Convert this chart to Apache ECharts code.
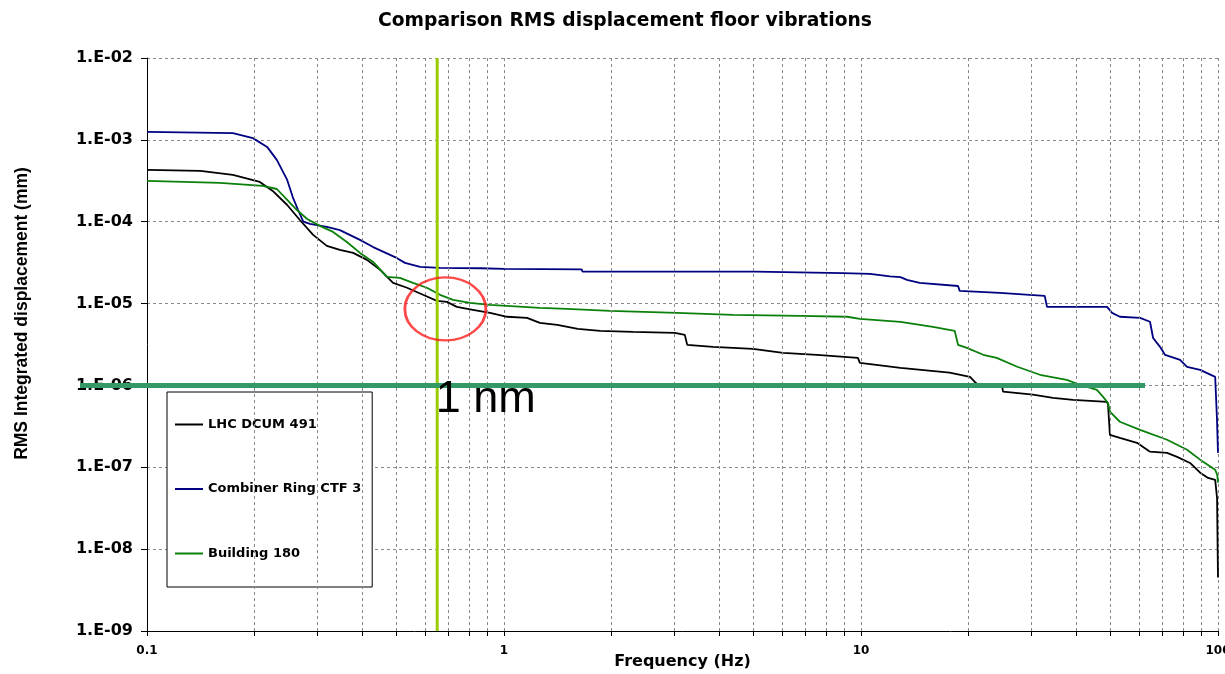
<!DOCTYPE html>
<html>
<head>
<meta charset="utf-8">
<script src="https://cdn.jsdelivr.net/npm/echarts@6/dist/echarts.min.js"></script>
<style>
html,body{margin:0;padding:0;background:#fff;}
#chart{width:1225px;height:674px;}
</style>
</head>
<body>
<div id="chart"></div>
<script>
// ---- Data ----
const lhcFreq = [0.1, 0.141, 0.174, 0.207, 0.225, 0.247, 0.268, 0.292, 0.319, 0.347, 0.378, 0.413, 0.45, 0.489, 0.535, 0.593, 0.649, 0.692, 0.738, 0.818, 0.914, 1.02, 1.16, 1.26, 1.41, 1.61, 1.86, 2.30, 3.01, 3.21, 3.26, 3.85, 4.98, 6.05, 7.53, 9.8, 9.93, 12.9, 17.7, 20.2, 20.8, 21.1, 24.8, 25.0, 30.3, 34.5, 39.3, 48.9, 49.2, 49.8, 53.1, 59.3, 64.5, 72.0, 76.8, 83.5, 89.1, 93.8, 98.2, 99.4, 99.8, 100];
const lhcDisp = [4.29e-4, 4.17e-4, 3.73e-4, 3.06e-4, 2.38e-4, 1.6e-4, 1.05e-4, 6.9e-5, 5.07e-5, 4.53e-5, 4.16e-5, 3.42e-5, 2.58e-5, 1.79e-5, 1.56e-5, 1.28e-5, 1.08e-5, 1.05e-5, 9.1e-6, 8.4e-6, 7.7e-6, 6.9e-6, 6.7e-6, 5.8e-6, 5.5e-6, 4.9e-6, 4.64e-6, 4.5e-6, 4.39e-6, 4.15e-6, 3.13e-6, 2.96e-6, 2.8e-6, 2.5e-6, 2.36e-6, 2.17e-6, 1.89e-6, 1.64e-6, 1.43e-6, 1.27e-6, 1.11e-6, 1.05e-6, 1.02e-6, 8.4e-7, 7.7e-7, 7.06e-7, 6.67e-7, 6.3e-7, 5.8e-7, 2.49e-7, 2.29e-7, 1.99e-7, 1.55e-7, 1.5e-7, 1.34e-7, 1.13e-7, 8.6e-8, 7.4e-8, 7.0e-8, 4.2e-8, 9.0e-9, 4.5e-9];

const ctfFreq = [0.1, 0.174, 0.198, 0.217, 0.231, 0.247, 0.256, 0.265, 0.274, 0.286, 0.319, 0.347, 0.395, 0.43, 0.495, 0.528, 0.582, 0.662, 0.857, 1.0, 1.65, 1.66, 5.05, 5.1, 8.9, 10.6, 12.05, 12.9, 13.45, 14.6, 18.7, 18.9, 24.5, 32.7, 33.2, 48.9, 50.5, 53.1, 60.5, 64.5, 65.8, 68.8, 71.1, 78.3, 81.9, 89.1, 98.2, 99.3, 100];
const ctfDisp = [1.25e-3, 1.21e-3, 1.05e-3, 8.2e-4, 5.7e-4, 3.24e-4, 2.0e-4, 1.39e-4, 1.0e-4, 9.4e-5, 8.65e-5, 7.9e-5, 6.0e-5, 4.9e-5, 3.7e-5, 3.14e-5, 2.8e-5, 2.73e-5, 2.7e-5, 2.65e-5, 2.62e-5, 2.45e-5, 2.45e-5, 2.4e-5, 2.35e-5, 2.3e-5, 2.15e-5, 2.1e-5, 1.95e-5, 1.79e-5, 1.64e-5, 1.43e-5, 1.35e-5, 1.24e-5, 9.1e-6, 9.1e-6, 7.7e-6, 6.9e-6, 6.7e-6, 6.0e-6, 3.8e-6, 2.96e-6, 2.36e-6, 2.05e-6, 1.69e-6, 1.55e-6, 1.27e-6, 4.1e-7, 1.5e-7];

const b180Freq = [0.1, 0.16, 0.211, 0.231, 0.247, 0.263, 0.281, 0.305, 0.332, 0.363, 0.395, 0.43, 0.47, 0.511, 0.556, 0.608, 0.662, 0.72, 0.803, 0.914, 1.26, 1.5, 1.98, 3.05, 4.38, 6.74, 9.14, 9.93, 12.9, 15.9, 18.3, 18.7, 19.8, 22.0, 24.0, 27.4, 31.7, 37.7, 41.0, 45.8, 47.6, 49.2, 49.8, 53.1, 60.5, 72.0, 81.9, 89.1, 98.2, 99.5, 100];
const b180Disp = [3.15e-4, 2.98e-4, 2.74e-4, 2.51e-4, 1.85e-4, 1.39e-4, 1.08e-4, 8.9e-5, 7.5e-5, 5.66e-5, 4.16e-5, 3.23e-5, 2.12e-5, 2.06e-5, 1.79e-5, 1.56e-5, 1.28e-5, 1.11e-5, 1.02e-5, 9.64e-6, 8.85e-6, 8.6e-6, 8.15e-6, 7.7e-6, 7.28e-6, 7.08e-6, 6.9e-6, 6.5e-6, 5.98e-6, 5.2e-6, 4.65e-6, 3.13e-6, 2.88e-6, 2.37e-6, 2.17e-6, 1.69e-6, 1.35e-6, 1.17e-6, 1.02e-6, 8.8e-7, 7.3e-7, 6.1e-7, 4.8e-7, 3.6e-7, 2.87e-7, 2.17e-7, 1.64e-7, 1.24e-7, 9.3e-8, 8.1e-8, 6.5e-8];

const seriesNames = ['LHC DCUM 491', 'Combiner Ring CTF 3', 'Building 180'];
const xTickLabels = ['0.1', '1', '10', '100'];
const minorFreqs = [0.2, 0.3, 0.4, 0.5, 0.6, 0.7, 0.8, 0.9, 2, 3, 4, 5, 6, 7, 8, 9, 20, 30, 40, 50, 60, 70, 80, 90];

// annotations
const oneNmLevel = [1e-6];
const oneNmSpan = [0.065, 62.5];
const markerFreq = [0.65];
const displayRange = [1e-9, 1e-2];
const freqRange = [0.1, 100];
const circleCenter = [0.685, 8.6e-6];
const annotText = ['1 nm'];

const zip = (xs, ys) => xs.map((x, i) => [x, ys[i]]);

const chart = echarts.init(document.getElementById('chart'), null, {renderer: 'canvas'});
const gridDash = {color: '#8a8a8a', width: 1, type: [3, 3]};

const option = {
  animation: false,
  backgroundColor: '#fff',
  title: {
    text: 'Comparison RMS displacement floor vibrations',
    left: 373, top: 7,
    textStyle: {fontFamily: 'DejaVu Sans', fontWeight: 'bold', fontSize: 18.7, color: '#000'}
  },
  grid: [
    {left: 147, right: 7, top: 58, bottom: 43, containLabel: false, outerBoundsMode: 'none'},
    // helper grid for the "1 nm" reference line, which runs past the left axis
    {left: 80, right: 80, top: 58, bottom: 43, containLabel: false, outerBoundsMode: 'none'},
    // helper strip just under the x axis for the minor tick marks
    {left: 147, right: 7, top: 631, height: 5, containLabel: false, outerBoundsMode: 'none'}
  ],
  legend: {
    data: seriesNames,
    orient: 'vertical',
    left: 167, top: 392,
    icon: 'rect',
    itemWidth: 28, itemHeight: 2, itemGap: 51.5,
    padding: [26, 11, 27, 8],
    borderColor: '#000', borderWidth: 1, backgroundColor: '#fff',
    textStyle: {fontFamily: 'DejaVu Sans', fontWeight: 'bold', fontSize: 13, color: '#000'}
  },
  xAxis: [{
    type: 'log', logBase: 10, min: freqRange[0], max: freqRange[1], splitNumber: 3,
    name: 'Frequency (Hz)', nameLocation: 'middle', nameGap: 23, nameMoveOverlap: false,
    nameTextStyle: {fontFamily: 'DejaVu Sans', fontWeight: 'bold', fontSize: 16, color: '#000'},
    axisLine: {lineStyle: {color: '#000', width: 1}},
    axisTick: {show: true, length: 5, lineStyle: {color: '#000'}},
    axisLabel: {
      margin: 14, color: '#000', fontFamily: 'DejaVu Sans', fontWeight: 'bold', fontSize: 12,
      formatter: v => { const e = Math.round(Math.log10(v)) + 1; return xTickLabels[e] !== undefined ? xTickLabels[e] : ''; }
    },
    splitLine: {show: true, lineStyle: gridDash}
  }, {
    gridIndex: 1, type: 'log', logBase: 10, min: oneNmSpan[0], max: oneNmSpan[1], show: false
  }, {
    gridIndex: 2, type: 'log', logBase: 10, min: freqRange[0], max: freqRange[1], show: false
  }],
  yAxis: [{
    type: 'log', logBase: 10, min: displayRange[0], max: displayRange[1], splitNumber: 7,
    name: 'RMS Integrated displacement (mm)', nameLocation: 'middle', nameGap: 116,
    nameTextStyle: {fontFamily: 'Liberation Sans', fontWeight: 'bold', fontSize: 17.5, color: '#000', padding: [0, 0, 0, 62]},
    axisLine: {show: true, lineStyle: {color: '#000', width: 1}},
    axisTick: {show: true, length: 6, lineStyle: {color: '#000'}},
    axisLabel: {
      margin: 14, color: '#000', fontFamily: 'DejaVu Sans', fontWeight: 'bold', fontSize: 16,
      formatter: v => '1.E-' + String(-Math.round(Math.log10(v))).padStart(2, '0')
    },
    splitLine: {show: true, lineStyle: gridDash}
  }, {
    gridIndex: 1, type: 'log', logBase: 10, min: displayRange[0], max: displayRange[1], show: false
  }, {
    gridIndex: 2, type: 'value', min: 0, max: 1, show: false
  }],
  series: [
    {
      name: '_minorgrid', type: 'line', data: [], z: 1, silent: true,
      markLine: {
        silent: true, symbol: ['none', 'none'], label: {show: false},
        lineStyle: gridDash, emphasis: {disabled: true},
        data: minorFreqs.map(f => ({xAxis: f}))
      }
    },
    {
      name: '_minorticks', type: 'line', data: [], z: 1, silent: true,
      xAxisIndex: 2, yAxisIndex: 2,
      markLine: {
        silent: true, symbol: ['none', 'none'], label: {show: false},
        lineStyle: {color: '#000', width: 1, type: 'solid'}, emphasis: {disabled: true},
        data: minorFreqs.map(f => ({xAxis: f}))
      }
    },
    {
      name: seriesNames[0], type: 'line', data: zip(lhcFreq, lhcDisp),
      showSymbol: false, symbol: 'none', z: 3,
      lineStyle: {color: '#000000', width: 1.8}, itemStyle: {color: '#000000'}
    },
    {
      name: seriesNames[1], type: 'line', data: zip(ctfFreq, ctfDisp),
      showSymbol: false, symbol: 'none', z: 3,
      lineStyle: {color: '#000080', width: 1.8}, itemStyle: {color: '#000080'}
    },
    {
      name: seriesNames[2], type: 'line', data: zip(b180Freq, b180Disp),
      showSymbol: false, symbol: 'none', z: 3,
      lineStyle: {color: '#0a800a', width: 1.8}, itemStyle: {color: '#0a800a'}
    },
    {
      name: '_marker', type: 'line', symbol: 'none', z: 5, silent: true,
      data: [[markerFreq[0], displayRange[0]], [markerFreq[0], displayRange[1]]],
      lineStyle: {color: '#99cc00', width: 3}
    },
    {
      name: '_onenm', type: 'line', symbol: 'none', z: 6, silent: true, clip: false,
      xAxisIndex: 1, yAxisIndex: 1,
      data: [[oneNmSpan[0], oneNmLevel[0]], [oneNmSpan[1], oneNmLevel[0]]],
      lineStyle: {color: '#339966', width: 5}
    },
    {
      name: '_circle', type: 'scatter', z: 7, silent: true,
      data: [circleCenter],
      symbol: 'circle', symbolSize: [81, 63],
      itemStyle: {color: 'rgba(0,0,0,0)', borderColor: '#ff1a1a', borderWidth: 2.5}
    },
    {
      name: '_label', type: 'scatter', z: 7, silent: true,
      data: [[markerFreq[0], oneNmLevel[0]]],
      symbolSize: 1, itemStyle: {color: 'rgba(0,0,0,0)'},
      label: {show: true, formatter: annotText[0], position: [-1, -8],
        fontFamily: 'Liberation Sans', fontWeight: 'normal', fontSize: 45, color: '#000', opacity: 1}
    }
  ]
};
chart.setOption(option);
</script>
</body>
</html>
